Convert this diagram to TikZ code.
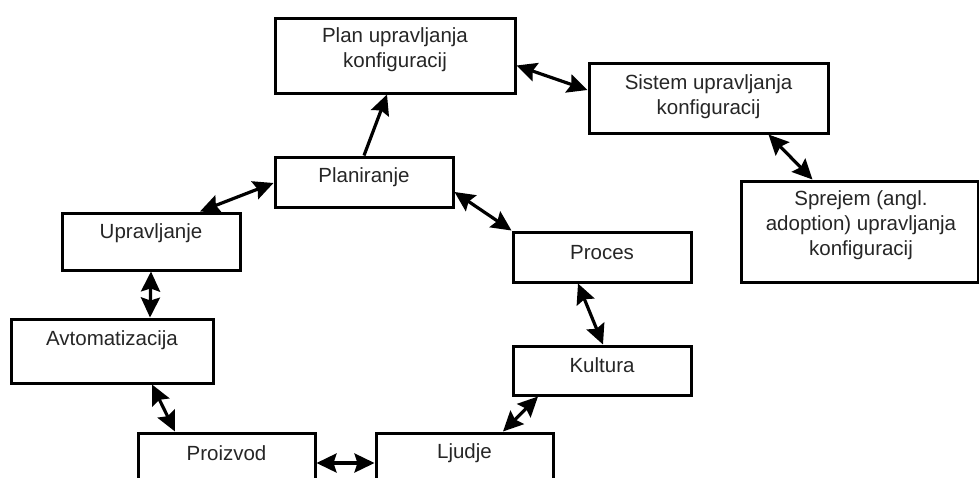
\documentclass[tikz,border=0pt]{standalone}
\usepackage{fontspec}
\setmainfont{Liberation Sans}
\usetikzlibrary{arrows.meta}

\begin{document}
\begin{tikzpicture}[x=1pt, y=-1pt,
  box/.style={draw=black, line width=3pt, fill=white, inner sep=0pt},
  txt/.style={font=\fontsize{20.5}{25}\selectfont, text=black!85, align=center, inner sep=0pt},
  link/.style={line width=3.2pt, {Stealth[length=20pt, width=19pt, inset=3pt]}-{Stealth[length=20pt, width=19pt, inset=3pt]}},
  onelink/.style={line width=3.2pt, -{Stealth[length=20pt, width=19pt, inset=3pt]}}]

\useasboundingbox (0,0) rectangle (979,477);
\clip (0,0) rectangle (979,477);

% boxes
\node[box, minimum width=240pt, minimum height=75pt]  (plan)       at (395,55.5)  {};
\node[box, minimum width=239pt, minimum height=70pt]  (sistem)     at (708.5,98)  {};
\node[box, minimum width=237pt, minimum height=101pt] (sprejem)    at (859.5,231.5) {};
\node[box, minimum width=178pt, minimum height=50pt]  (planiranje) at (364,182)   {};
\node[box, minimum width=178pt, minimum height=57pt]  (upravljanje) at (151,241.5) {};
\node[box, minimum width=202pt, minimum height=64pt]  (avtomat)    at (112,351)   {};
\node[box, minimum width=177pt, minimum height=60pt]  (proizvod)   at (226.5,463) {};
\node[box, minimum width=178pt, minimum height=50pt]  (proces)     at (602,257)   {};
\node[box, minimum width=178pt, minimum height=49pt]  (kultura)    at (602,370.5) {};
\node[box, minimum width=177pt, minimum height=60pt]  (ljudje)     at (464.5,463) {};

% labels
\node[txt] (tplan)    at (395,50)    {Plan upravljanja\\konfiguracij};
\node[txt] (tsistem)  at (708.5,96.5) {Sistem upravljanja\\konfiguracij};
\node[txt] (tsprejem) at (861,225)   {Sprejem (angl.\\adoption) upravljanja\\konfiguracij};
\node[txt] (tplanir)  at (364,177)   {Planiranje};
\node[txt] (tupr)     at (151,233)   {Upravljanje};
\node[txt] (tavt)     at (112,340)   {Avtomatizacija};
\node[txt] (tproizv)  at (226.5,453) {Proizvod};
\node[txt] (tproces)  at (602,253)   {Proces};
\node[txt] (tkult)    at (602,365)   {Kultura};
\node[txt] (tljud)    at (464.5,453) {Ljudje};

% connectors
\draw[onelink] (planiranje.north) -- ([xshift=-8pt]plan.south);
\draw[link] ([yshift=-10pt]plan.east) -- ([yshift=8pt]sistem.west);
\draw[link] ([xshift=60pt]sistem.south) -- ([xshift=-47pt]sprejem.north);
\draw[link] ([yshift=-1pt]planiranje.west) -- ([xshift=49pt]upravljanje.north);
\draw[link] ([yshift=-10pt]planiranje.east) -- (proces.north west);
\draw[link] (upravljanje.south) -- ([xshift=38pt]avtomat.north);
\draw[link] ([xshift=40pt]avtomat.south) -- ([xshift=-51.5pt]proizvod.north);
\draw[link] (proizvod.east) -- (ljudje.west);
\draw[link] ([xshift=38.5pt]ljudje.north) -- ([xshift=-64pt]kultura.south);
\draw[link] ([xshift=1pt]kultura.north) -- ([xshift=-24pt]proces.south);

\end{tikzpicture}
\end{document}
